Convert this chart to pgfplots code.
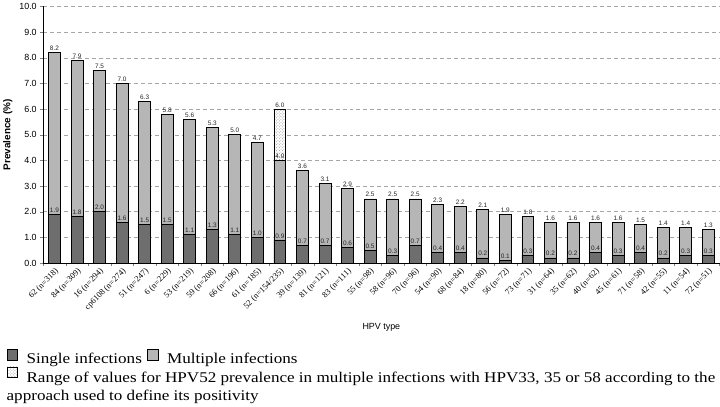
\documentclass[border=0pt]{standalone}
\usepackage{fontspec}
\setmainfont{Liberation Serif}
\setsansfont{Liberation Sans}
\newfontfamily\legfont{Liberation Serif}[FakeStretch=1.15]
\usepackage{pgfplots}
\pgfplotsset{compat=1.18}
\usepackage{pgfplotstable}
\usetikzlibrary{patterns,calc}

\definecolor{singlec}{RGB}{110,110,110}
\definecolor{multic}{RGB}{182,182,182}

\pgfplotstableread{
x single total
0 1.9 8.2
1 1.8 7.9
2 2.0 7.5
3 1.6 7.0
4 1.5 6.3
5 1.5 5.8
6 1.1 5.6
7 1.3 5.3
8 1.1 5.0
9 1.0 4.7
10 0.9 4.0
11 0.7 3.6
12 0.7 3.1
13 0.6 2.9
14 0.5 2.5
15 0.3 2.5
16 0.7 2.5
17 0.4 2.3
18 0.4 2.2
19 0.2 2.1
20 0.1 1.9
21 0.3 1.8
22 0.2 1.6
23 0.2 1.6
24 0.4 1.6
25 0.3 1.6
26 0.4 1.5
27 0.2 1.4
28 0.3 1.4
29 0.3 1.3
}\hpvdata

\begin{document}
\begin{tikzpicture}
\begin{axis}[
  name=ax,
  scale only axis,
  width=680bp, height=258bp,
  xmin=-0.5, xmax=29.5,
  ymin=0, ymax=10,
  axis lines=left,
  axis line style={-, line width=0.8pt},
  ybar, bar width=0.53,
  tick align=outside,
  major tick length=3bp, minor tick length=3bp,
  ytick={0,1,...,10},
  yticklabel style={font=\sffamily\fontsize{9}{10}\selectfont,
    /pgf/number format/.cd, fixed, fixed zerofill, precision=1, assume math mode=true},
  xtick={0,...,29},
  minor xtick={-0.5,0.5,...,29.5},
  major x tick style={draw=none},
  xticklabels={62 (n=318),84 (n=309),16 (n=294),cp6108 (n=274),51 (n=247),6 (n=229),53 (n=219),59 (n=208),66 (n=196),61 (n=185),52 (n=154/235),39 (n=139),81 (n=121),83 (n=111),55 (n=98),58 (n=96),70 (n=96),54 (n=90),68 (n=84),18 (n=80),56 (n=72),73 (n=71),31 (n=64),35 (n=62),40 (n=62),45 (n=61),71 (n=58),42 (n=55),11 (n=54),72 (n=51)},
  xticklabel style={font=\fontsize{8.5}{9}\selectfont, rotate=45, anchor=north east, inner sep=1pt},
  ymajorgrids,
  major grid style={gray!70, dash pattern=on 4bp off 3bp, line width=0.5pt},
  xlabel={HPV type},
  xlabel style={font=\sffamily\fontsize{9}{10}\selectfont, at={(axis description cs:0.5,-0.252)}, anchor=center},
  ylabel={Prevalence (\%)},
  ylabel style={font=\sffamily\bfseries\fontsize{10}{11}\selectfont},
  legend columns=2,
  legend cell align=left,
  legend image code/.code={\draw[#1, line width=0.8pt] (0bp,-1bp) rectangle (10.5bp,9.5bp);},
  legend style={draw=none, fill=none, at={(axis description cs:-0.054,-0.335)}, anchor=north west,
    font=\legfont\fontsize{15}{18.5}\selectfont, inner sep=0pt, row sep=1pt,
    nodes={inner sep=0.5pt},
    /tikz/every odd column/.style={column sep=8bp},
    /tikz/every even column/.style={column sep=5bp}},
  nodes near coords={\pgfmathprintnumber[fixed,fixed zerofill,precision=1,assume math mode=true]{\pgfplotspointmeta}},
  nodes near coords style={font=\sffamily\fontsize{6.5}{7}\selectfont, inner sep=1.5pt, text=black!85},
]
\addlegendimage{fill=singlec, draw=black}
\addlegendentry{Single infections}
\addlegendimage{fill=multic, draw=black}
\addlegendentry{Multiple infections}
\addlegendimage{fill=white, draw=black, postaction={pattern=crosshatch dots, pattern color=gray!80}}
\addlegendentry{\rlap{\begin{tabular}[t]{@{}l@{}}Range of values for HPV52 prevalence in multiple infections with HPV33, 35 or 58 according to the\\\hspace*{-20bp}approach used to define its positivity\end{tabular}}}

\addplot[bar shift=0pt, draw=black, line width=0.8pt, fill=white, postaction={pattern=crosshatch dots, pattern color=gray!80}, forget plot]
  coordinates {(10,6.0)};
\addplot[bar shift=0pt, draw=black, line width=0.8pt, fill=multic, forget plot]
  table[x=x, y=total] {\hpvdata};
\addplot[bar shift=0pt, draw=black, line width=0.8pt, fill=singlec, forget plot]
  table[x=x, y=single] {\hpvdata};
\end{axis}
\path ($(ax.south west)+(-39.5bp,-144bp)$) rectangle ($(ax.north east)+(0.5bp,5bp)$);
\end{tikzpicture}
\end{document}
